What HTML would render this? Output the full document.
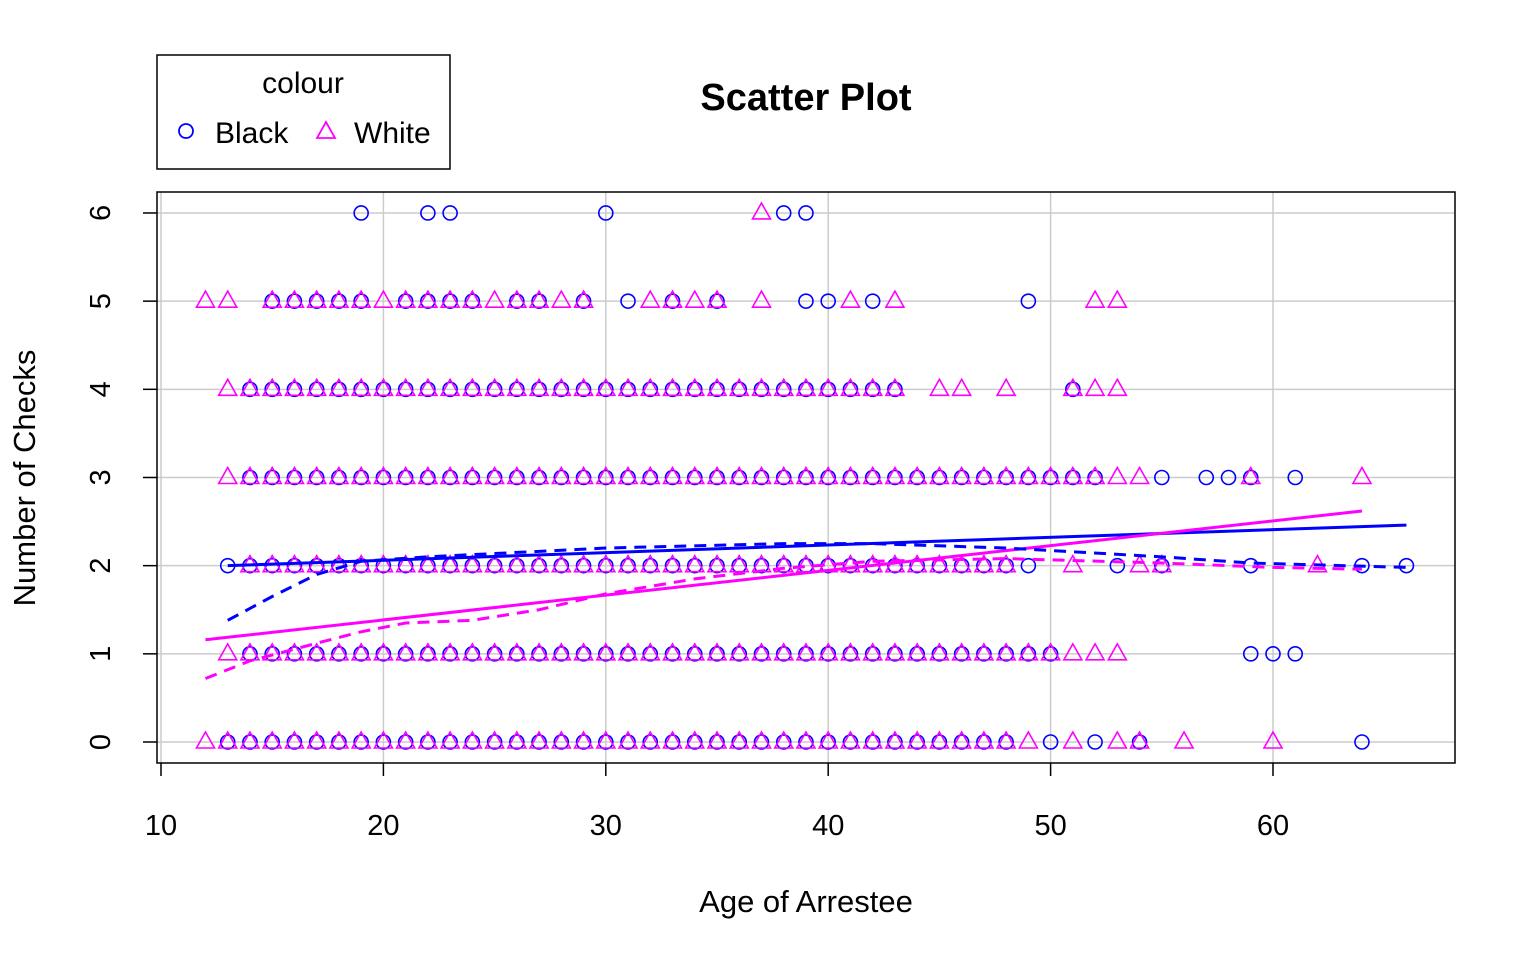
<!DOCTYPE html>
<html><head><meta charset="utf-8"><style>
body{margin:0;background:#fff}
svg{font-family:"Liberation Sans",Arial,sans-serif}
</style></head><body>
<svg id="c" width="1536" height="960">
<text x="806" y="110" text-anchor="middle" font-size="38" font-weight="bold">Scatter Plot</text>
<text x="806" y="912" text-anchor="middle" font-size="31">Age of Arrestee</text>
<text transform="translate(35,478) rotate(-90)" text-anchor="middle" font-size="31">Number of Checks</text>
<g id="legend">
<rect x="157" y="55" width="293" height="114" fill="#fff" stroke="#000" stroke-width="1.5"/>
<text x="303" y="93" text-anchor="middle" font-size="30">colour</text>
<circle cx="186" cy="131" r="7" fill="none" stroke="#0000ff" stroke-width="1.8"/>
<text x="215" y="143" font-size="30">Black</text>
<path d="M326,122 L335,138 L317,138 Z" fill="none" stroke="#ff00ff" stroke-width="1.8"/>
<text x="354" y="143" font-size="30">White</text>
</g>
<g id="grid"></g><g id="axes"></g><g id="pts"></g><g id="lines"></g>
<rect x="157" y="192" width="1298" height="571" fill="none" stroke="#000" stroke-width="1.5"/>
</svg>
<script>
const xTicks=[10,20,30,40,50,60];
const yTicks=[0,1,2,3,4,5,6];
function R(a,b){const r=[];for(let i=a;i<=b;i++)r.push(i);return r;}
const blackAges={
6:[19,22,23,30,38,39],
5:[15,16,17,18,19,21,22,23,24,26,27,29,31,33,35,39,40,42,49],
4:R(14,43).concat([51]),
3:R(14,50).concat([51,52,55,57,58,59,61]),
2:R(13,49).concat([53,55,59,64,66]),
1:R(14,50).concat([59,60,61]),
0:R(13,48).concat([50,52,54,64])};
const whiteAges={
6:[37],
5:[12,13,15,16,17,18,19,20,21,22,23,24,25,26,27,28,29,32,33,34,35,37,41,43,52,53],
4:R(13,43).concat([45,46,48,51,52,53]),
3:R(13,51).concat([52,53,54,59,64]),
2:R(14,48).concat([51,54,55,62]),
1:R(13,53),
0:R(12,49).concat([51,53,54,56,60])};
const blackFitX=[13,66], blackFitY=[2.0,2.46];
const whiteFitX=[12,64], whiteFitY=[1.16,2.62];
const blackSmoothX=[13,15,17,19,22,30,38,42,48,55,59,66];
const blackSmoothY=[1.38,1.65,1.9,2.05,2.1,2.2,2.25,2.25,2.2,2.1,2.03,1.98];
const whiteSmoothX=[12,14,17,19,21,24,27,30,34,38,42,48,55,60,64];
const whiteSmoothY=[0.72,0.92,1.12,1.25,1.35,1.38,1.5,1.68,1.85,1.97,2.05,2.08,2.03,1.98,1.96];
const sx=v=>161+(v-10)*22.24, sy=v=>742-v*88.17;
const NS='http://www.w3.org/2000/svg';
function mk(t,at,p){const e=document.createElementNS(NS,t);for(const k in at)e.setAttribute(k,at[k]);p.appendChild(e);return e;}
const grid=document.getElementById('grid'),axes=document.getElementById('axes'),pts=document.getElementById('pts'),lines=document.getElementById('lines');
xTicks.forEach(t=>{
 const g=mk('line',{x1:sx(t),x2:sx(t),y1:192,y2:763,stroke:'#cccccc','stroke-width':1.5},grid);
 
 
 mk('line',{x1:sx(t),x2:sx(t),y1:763,y2:776,stroke:'#000','stroke-width':1.5},axes);
 const l=mk('text',{x:sx(t),y:835,'text-anchor':'middle','font-size':29},axes);l.textContent=t;
 
 
});
yTicks.forEach(t=>{
 const g=mk('line',{x1:157,x2:1455,y1:sy(t),y2:sy(t),stroke:'#cccccc','stroke-width':1.5},grid);
 
 
 mk('line',{x1:143,x2:157,y1:sy(t),y2:sy(t),stroke:'#000','stroke-width':1.5},axes);
 const l=mk('text',{transform:`translate(110,${sy(t)}) rotate(-90)`,'text-anchor':'middle','font-size':29},axes);l.textContent=t;
 
 
});
for(const k in blackAges)blackAges[k].forEach(a=>{
 const c=mk('circle',{cx:sx(a),cy:sy(+k),r:7,fill:'none',stroke:'#0000ff','stroke-width':1.6},pts);
 
 
});
for(const k in whiteAges)whiteAges[k].forEach(a=>{
 const x=sx(a),y=sy(+k);
 const p=mk('path',{d:`M${x},${y-10} L${x+9},${y+6} L${x-9},${y+6} Z`,fill:'none',stroke:'#ff00ff','stroke-width':1.6},pts);
 
 
});
function line(X,Y,col,dash,name){
 const d=X.map((x,i)=>(i?'L':'M')+sx(x)+','+sy(Y[i])).join(' ');
 const p=mk('path',{d:d,fill:'none',stroke:col,'stroke-width':3,'stroke-dasharray':dash||'none'},lines);
 
 
}
line(blackFitX,blackFitY,'#0000ff',null,'black-linear-fit');
line(whiteFitX,whiteFitY,'#ff00ff',null,'white-linear-fit');
line(blackSmoothX,blackSmoothY,'#0000ff','12,8','black-smooth-line');
line(whiteSmoothX,whiteSmoothY,'#ff00ff','12,8','white-smooth-line');
</script>
</body></html>
